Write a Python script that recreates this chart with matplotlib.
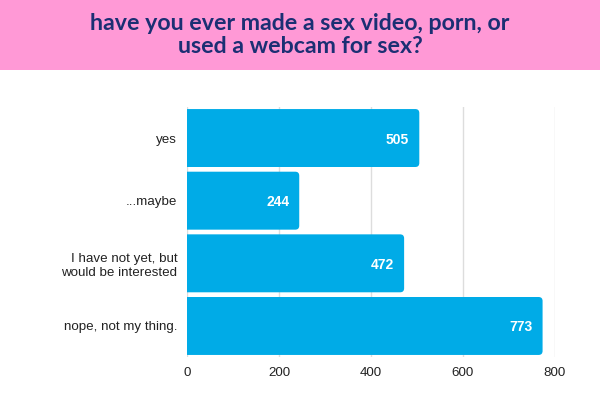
import matplotlib
matplotlib.use("Agg")
import matplotlib.pyplot as plt
from matplotlib.patches import Rectangle, FancyBboxPatch

# Données du graphique
categories = ["yes", "...maybe", "I have not yet, but\nwould be interested", "nope, not my thing."]
values = [505, 244, 472, 773]
xticks = [0, 200, 400, 600, 800]
title = "have you ever made a sex video, porn, or\nused a webcam for sex?"

# Couleurs
pink = "#ff99d6"
navy = "#1b2f73"
blue = "#00abe7"

fig = plt.figure(figsize=(6, 4.15), dpi=100)
ax = fig.add_axes([187 / 600, 1 - 357.3 / 415, (555 - 187) / 600, (357.3 - 106.7) / 415])

# Bandeau rose du titre
fig.patches.append(Rectangle((0, 1 - 70 / 415), 1, 70 / 415, transform=fig.transFigure,
                             facecolor=pink, edgecolor="none", zorder=0))
fig.text(0.5, 1 - 35 / 415, title, ha="center", va="center", fontsize=16.7,
         fontweight="bold", color=navy, family=["Lato", "DejaVu Sans"], linespacing=1.08)

ax.set_xlim(0, 800)
ax.set_ylim(len(categories) - 0.5, -0.5)

# Barres arrondies à droite (le côté gauche est coupé par l'axe)
bar_h = 0.925
px_x = 800 / 368.0        # unités x par pixel
px_y = 4 / 250.6          # unités y par pixel
r = 4 * px_x
bars = ax.barh(range(len(values)), values, height=bar_h, color=blue, alpha=0)
for b, v in zip(bars, values):
    y0 = b.get_y()
    p = FancyBboxPatch((-2 * r, y0), v + 2 * r, bar_h,
                       boxstyle=f"round,pad=0,rounding_size={r}",
                       mutation_aspect=px_y / px_x,
                       facecolor=blue, edgecolor="none", zorder=3)
    ax.add_patch(p)
    ax.text(v - 10 * px_x, b.get_y() + bar_h / 2 + 1.5 * px_y, str(v), ha="right", va="center",
            color="white", fontsize=10, fontweight="bold",
            family=["Liberation Sans", "DejaVu Sans"], zorder=4)

ax.set_yticks(range(len(categories)))
ax.set_yticklabels(categories, family=["Liberation Sans", "DejaVu Sans"], fontsize=9.6,
                   color="#222222")
ax.set_xticks(xticks)
ax.set_xticklabels([str(t) for t in xticks], family=["Liberation Sans", "DejaVu Sans"],
                   fontsize=9.6, color="#222222")
ax.tick_params(axis="both", length=0)
ax.tick_params(axis="x", pad=7)
ax.tick_params(axis="y", pad=7)

ax.grid(axis="x", color="#dddddd", linewidth=1)
ax.set_axisbelow(True)
for s in ax.spines.values():
    s.set_visible(False)

fig.savefig("out.png", dpi=100)
